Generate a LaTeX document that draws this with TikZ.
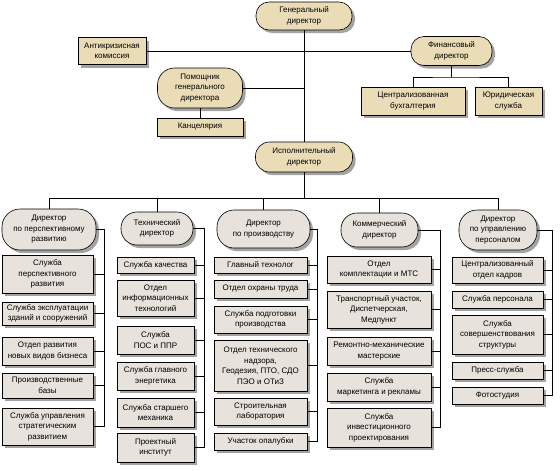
\documentclass[tikz,border=0pt]{standalone}
\usepackage{fontspec}
\setmainfont{Liberation Sans}
\usetikzlibrary{shadows}
\definecolor{tanfill}{HTML}{E9DCB6}
\definecolor{unitfill}{HTML}{E7E2DB}
\definecolor{shadowgray}{HTML}{A3A3A3}
\begin{document}
\begin{tikzpicture}[x=1pt,y=-1pt,
    orgbox/.style={draw, line width=0.6pt, align=center, inner sep=0pt,
      font=\fontsize{8}{10.5}\selectfont,
      drop shadow={shadow xshift=3pt,shadow yshift=-3pt,fill=shadowgray,opacity=1}},
    tanbox/.style={orgbox, fill=tanfill},
    unitbox/.style={orgbox, fill=unitfill},
    pill/.style={rounded corners=#1}, pill/.default=13pt,
    link/.style={line width=0.6pt}]
  \useasboundingbox (0,0) rectangle (560,471);

  % Drawing top management
  \node (gd) at (304,16) [tanbox, pill, minimum width=96, minimum height=28] {Генеральный\\директор};
  \node (ak) at (112,51) [tanbox, minimum width=68, minimum height=27] {Антикризисная\\комиссия};
  \node (fin) at (451.5,51) [tanbox, pill, minimum width=81, minimum height=29] {Финансовый\\директор};
  \node (pom) at (200,88) [tanbox, pill=17pt, minimum width=85, minimum height=40] {Помощник\\генерального\\директора};
  \node (kanc) at (200,127) [tanbox, minimum width=86, minimum height=18] {Канцелярия};
  \node (buh) at (413,101) [tanbox, minimum width=104, minimum height=28] {Централизованная\\бухгалтерия};
  \node (jur) at (508.5,101) [tanbox, minimum width=67, minimum height=28] {Юридическая\\служба};
  \node (ex) at (304,157) [tanbox, pill=14pt, minimum width=97, minimum height=30] {Исполнительный\\директор};

  % Drawing top connectors
  \coordinate (finfork) at (451.5,77);
  \draw [link] (gd.south) -- (ex.north);
  \draw [link] (ak.east) -- (fin.west);
  \draw [link] (pom.east) -- (pom.east -| gd.south);
  \draw [link] (pom.south) -- (kanc.north);
  \draw [link] (fin.south) -- (finfork);
  \draw [link] (buh.north) |- (finfork) -| (jur.north);

  % Drawing directors
  \node (d1) at (49,229.5) [unitbox, pill=18pt, minimum width=94, minimum height=41] {Директор\\по перспективному\\развитию};
  \node (d2) at (157,228.5) [unitbox, pill=16pt, minimum width=72, minimum height=33] {Технический\\директор};
  \node (d3) at (263.5,229) [unitbox, pill=17pt, minimum width=93, minimum height=38] {Директор\\по производству};
  \node (d4) at (379.5,230) [unitbox, pill=16pt, minimum width=77, minimum height=34] {Коммерческий\\директор};
  \node (d5) at (498,230) [unitbox, pill=18pt, minimum width=78, minimum height=40] {Директор\\по управлению\\персоналом};

  % Drawing bus under Ispolnitelny
  \coordinate (bus) at (304,198);
  \draw [link] (ex.south) -- (bus);
  \draw [link] (d1.north |- bus) -- (d5.north |- bus);
  \foreach \d in {d1,d2,d3,d4,d5}
    \draw [link] (\d.north |- bus) -- (\d.north);

  % Drawing column 1
  \node (b11) at (47.5,274) [unitbox, minimum width=91, minimum height=38] {Служба\\перспективного\\развития};
  \node (b12) at (47.5,313.5) [unitbox, minimum width=91, minimum height=23] {Служба эксплуатации\\зданий и сооружений};
  \node (b13) at (47.5,351) [unitbox, minimum width=91, minimum height=28] {Отдел развития\\новых видов бизнеса};
  \node (b14) at (47.5,385.5) [unitbox, minimum width=91, minimum height=25] {Производственные\\базы};
  \node (b15) at (47.5,426.5) [unitbox, minimum width=91, minimum height=37] {Служба управления\\стратегическим\\развитием};

  % Drawing column 2
  \node (b21) at (155.5,265) [unitbox, minimum width=77, minimum height=16] {Служба качества};
  \node (b22) at (155.5,298) [unitbox, minimum width=77, minimum height=36] {Отдел\\информационных\\технологий};
  \node (b23) at (155.5,340) [unitbox, minimum width=77, minimum height=28] {Служба\\ПОС и ППР};
  \node (b24) at (155.5,376) [unitbox, minimum width=77, minimum height=28] {Служба главного\\энергетика};
  \node (b25) at (155.5,412.5) [unitbox, minimum width=77, minimum height=29] {Служба старшего\\механика};
  \node (b26) at (155.5,447.5) [unitbox, minimum width=77, minimum height=29] {Проектный\\институт};

  % Drawing column 3
  \node (b31) at (260.5,265) [unitbox, minimum width=93, minimum height=16] {Главный технолог};
  \node (b32) at (260.5,289) [unitbox, minimum width=93, minimum height=18] {Отдел охраны труда};
  \node (b33) at (260.5,319.5) [unitbox, minimum width=93, minimum height=27] {Служба подготовки\\производства};
  \node (b34) at (260.5,365.5) [unitbox, minimum width=93, minimum height=51] {Отдел технического\\надзора,\\Геодезия, ПТО, СДО\\ПЭО и ОТиЗ};
  \node (b35) at (260.5,411.5) [unitbox, minimum width=93, minimum height=27] {Строительная\\лаборатория};
  \node (b36) at (260.5,441.5) [unitbox, minimum width=93, minimum height=17] {Участок опалубки};

  % Drawing column 4
  \node (b41) at (379,269.5) [unitbox, minimum width=104, minimum height=27] {Отдел\\комплектации и МТС};
  \node (b42) at (379,309.5) [unitbox, minimum width=104, minimum height=37] {Транспортный участок,\\Диспетчерская,\\Медпункт};
  \node (b43) at (379,351) [unitbox, minimum width=104, minimum height=28] {Ремонтно-механические\\мастерские};
  \node (b44) at (379,387) [unitbox, minimum width=104, minimum height=28] {Служба\\маркетинга и рекламы};
  \node (b45) at (379,427.5) [unitbox, minimum width=104, minimum height=39] {Служба\\инвестиционного\\проектирования};

  % Drawing column 5
  \node (b51) at (497.5,270) [unitbox, minimum width=91, minimum height=26] {Централизованный\\отдел кадров};
  \node (b52) at (497.5,299.5) [unitbox, minimum width=91, minimum height=17] {Служба персонала};
  \node (b53) at (497.5,334.5) [unitbox, minimum width=91, minimum height=39] {Служба\\совершенствования\\структуры};
  \node (b54) at (497.5,370.5) [unitbox, minimum width=91, minimum height=17] {Пресс-служба};
  \node (b55) at (497.5,395.5) [unitbox, minimum width=91, minimum height=17] {Фотостудия};

  % Drawing column connectors
  \coordinate (c1) at (104,0);
  \coordinate (c2) at (204,0);
  \coordinate (c3) at (317,0);
  \coordinate (c4) at (440,0);
  \coordinate (c5) at (552,0);
  \draw [link] (d1.east) -| (c1 |- b15.east) -- (b15.east);
  \foreach \b in {b11,b12,b13,b14}
    \draw [link] (\b.east) -- (c1 |- \b.east);
  \draw [link] (d2.east) -| (c2 |- b26.east) -- (b26.east);
  \foreach \b in {b21,b22,b23,b24,b25}
    \draw [link] (\b.east) -- (c2 |- \b.east);
  \draw [link] (d3.east) -| (c3 |- b36.east) -- (b36.east);
  \foreach \b in {b31,b32,b33,b34,b35}
    \draw [link] (\b.east) -- (c3 |- \b.east);
  \draw [link] (d4.east) -| (c4 |- b45.east) -- (b45.east);
  \foreach \b in {b41,b42,b43,b44}
    \draw [link] (\b.east) -- (c4 |- \b.east);
  \draw [link] (d5.east) -| (c5 |- b55.east) -- (b55.east);
  \foreach \b in {b51,b52,b53,b54}
    \draw [link] (\b.east) -- (c5 |- \b.east);
\end{tikzpicture}
\end{document}
